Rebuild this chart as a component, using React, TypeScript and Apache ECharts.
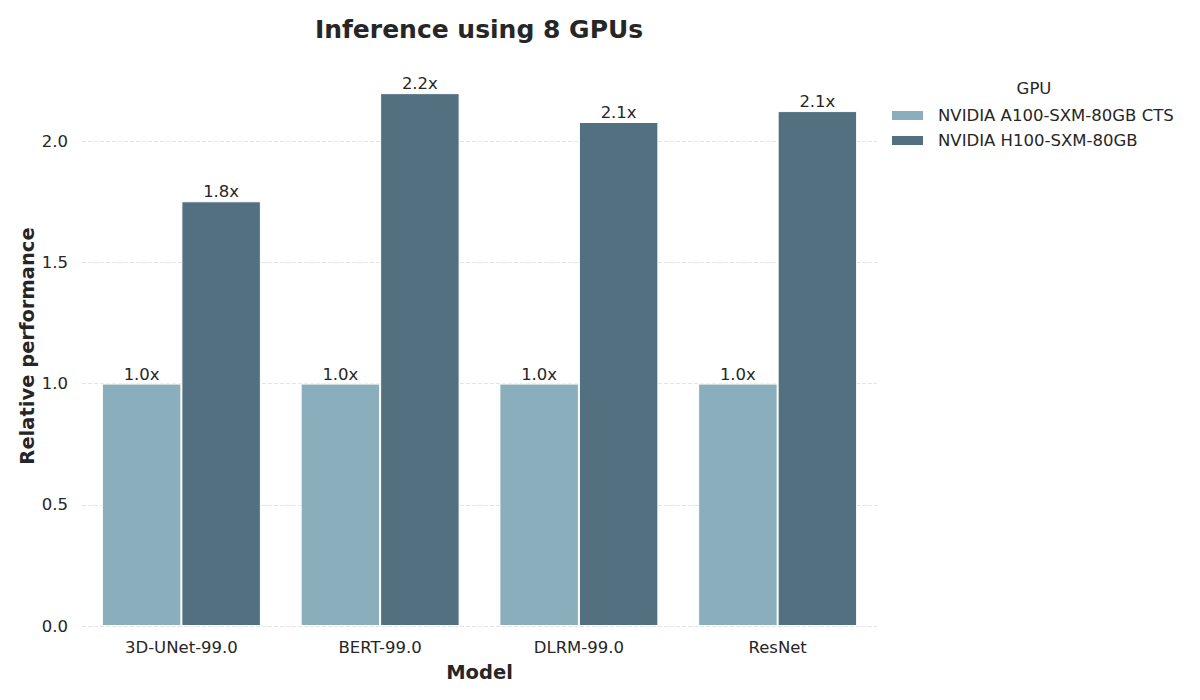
import React, { useEffect, useRef } from "react";
import * as echarts from "echarts";

const categories = ["3D-UNet-99.0", "BERT-99.0", "DLRM-99.0", "ResNet"];
const a100Values = [1.0, 1.0, 1.0, 1.0];
const h100Values = [1.752, 2.198, 2.079, 2.124];
const seriesNames = ["NVIDIA A100-SXM-80GB CTS", "NVIDIA H100-SXM-80GB"];
const yTicks = [0, 0.5, 1.0, 1.5, 2.0];

const FONT = "DejaVu Sans";
const TEXT = "#262626";

export default function App() {
  const ref = useRef<HTMLDivElement>(null);
  useEffect(() => {
    if (!ref.current) return;
    const chart = echarts.init(ref.current, undefined, { renderer: "svg" });
    const label = {
      show: true,
      position: "top" as const,
      distance: 1,
      color: TEXT,
      fontFamily: FONT,
      fontSize: 16.5,
      formatter: (p: any) => `${Number(p.value).toFixed(1)}x`,
    };
    chart.setOption({
      animation: false,
      backgroundColor: "#ffffff",
      textStyle: { fontFamily: FONT },
      title: {
        text: "Inference using 8 GPUs",
        left: 474,
        textAlign: "center",
        top: 12,
        textStyle: { fontFamily: FONT, fontSize: 25, fontWeight: "bold", color: TEXT },
      },
      graphic: [
        {
          type: "text",
          x: 1034,
          y: 88,
          style: {
            text: "GPU",
            fontFamily: FONT,
            fontSize: 16.5,
            fill: TEXT,
            align: "center",
            verticalAlign: "middle",
          },
        },
      ],
      legend: {
        orient: "vertical",
        left: 890,
        top: 107,
        padding: 0,
        itemWidth: 33,
        itemHeight: 11,
        itemGap: 8,
        icon: "rect",
        textStyle: { fontFamily: FONT, fontSize: 16.5, color: TEXT, padding: [0, 0, 0, 9] },
        data: seriesNames,
      },
      grid: { left: 82, right: 323, top: 66, bottom: 74, containLabel: false },
      xAxis: {
        type: "category",
        data: categories,
        name: "Model",
        nameLocation: "middle",
        nameGap: 36,
        nameMoveOverlap: false,
        nameTextStyle: { fontFamily: FONT, fontSize: 19.5, fontWeight: "bold", color: TEXT },
        axisLine: { show: false },
        axisTick: { show: false },
        axisLabel: { fontFamily: FONT, fontSize: 16.5, color: TEXT, margin: 13 },
      },
      yAxis: {
        type: "value",
        min: 0,
        max: 2.31,
        interval: 0.5,
        name: "Relative performance",
        nameLocation: "middle",
        nameGap: 45,
        nameMoveOverlap: false,
        nameTextStyle: { fontFamily: FONT, fontSize: 19.5, fontWeight: "bold", color: TEXT },
        axisLine: { show: false },
        axisTick: { show: false },
        axisLabel: {
          fontFamily: FONT,
          fontSize: 16.5,
          color: TEXT,
          margin: 14,
          showMaxLabel: false,
          formatter: (v: number) => (yTicks.includes(Number(v.toFixed(2))) ? v.toFixed(1) : ""),
        },
        splitLine: {
          show: true,
          showMaxLine: false,
          lineStyle: { color: "#dddddd", type: [4, 2], width: 0.8 },
        },
      },
      series: [
        {
          name: seriesNames[0],
          type: "bar",
          data: a100Values,
          barGap: "0%",
          barCategoryGap: "20%",
          itemStyle: { color: "#8aaebb", borderColor: "#ffffff", borderWidth: 1 },
          label,
        },
        {
          name: seriesNames[1],
          type: "bar",
          data: h100Values,
          barGap: "0%",
          barCategoryGap: "20%",
          itemStyle: { color: "#537080", borderColor: "#ffffff", borderWidth: 1 },
          label,
        },
      ],
    });
    return () => chart.dispose();
  }, []);
  return <div ref={ref} style={{ width: 1200, height: 700, marginLeft: -8, marginTop: -8 }} />;
}
